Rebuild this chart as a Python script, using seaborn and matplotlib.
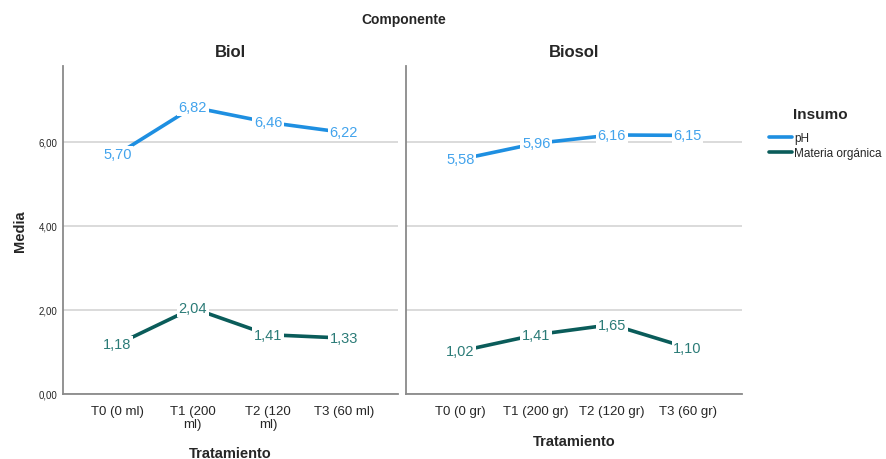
import numpy as np
import pandas as pd
import matplotlib
matplotlib.use("Agg")
import matplotlib.pyplot as plt
import seaborn as sns

# data
componentes = ["Biol", "Biosol"]
insumos = ["pH", "Materia orgánica"]
trat_biol = ["T0 (0 ml)", "T1 (200\nml)", "T2 (120\nml)", "T3 (60 ml)"]
trat_biosol = ["T0 (0 gr)", "T1 (200 gr)", "T2 (120 gr)", "T3 (60 gr)"]
biol_ph = [5.70, 6.82, 6.46, 6.22]
biol_mo = [1.18, 2.04, 1.41, 1.33]
biosol_ph = [5.58, 5.96, 6.16, 6.15]
biosol_mo = [1.02, 1.41, 1.65, 1.10]

line_colors = {"pH": "#1e8fe1", "Materia orgánica": "#0a5c5a"}
text_colors = {"pH": "#42a3ec", "Materia orgánica": "#2b7b77"}

rows = []
for comp, trats, ph, mo in [("Biol", trat_biol, biol_ph, biol_mo),
                            ("Biosol", trat_biosol, biosol_ph, biosol_mo)]:
    for i, t in enumerate(trats):
        rows.append({"Componente": comp, "pos": i, "Tratamiento": t, "Insumo": "pH", "Media": ph[i]})
        rows.append({"Componente": comp, "pos": i, "Tratamiento": t, "Insumo": "Materia orgánica", "Media": mo[i]})
df = pd.DataFrame(rows)

sns.set_theme(style="white")
plt.rcParams["font.family"] = ["Liberation Sans", "DejaVu Sans"]

fig = plt.figure(figsize=(8.87, 4.60), dpi=100)
ax1 = fig.add_axes([63 / 887, 1 - 395 / 460, 335 / 887, 328 / 460])
ax2 = fig.add_axes([406 / 887, 1 - 395 / 460, 336 / 887, 328 / 460], sharey=ax1)

for ax, comp, trats in [(ax1, "Biol", trat_biol), (ax2, "Biosol", trat_biosol)]:
    sub = df[df["Componente"] == comp]
    sns.lineplot(data=sub, x="pos", y="Media", hue="Insumo", hue_order=insumos,
                 palette=line_colors, linewidth=2.6, ax=ax, legend=False, zorder=2)
    for _, r in sub.iterrows():
        ax.text(r["pos"], r["Media"], f"{r['Media']:.2f}".replace(".", ","),
                ha="center", va="center", fontsize=10.5, color=text_colors[r["Insumo"]],
                bbox=dict(boxstyle="square,pad=0.12", fc="white", ec="none"), zorder=3)
    ax.set_xlim(-0.72, 3.72)
    ax.set_ylim(0, 7.8)
    ax.set_xticks(range(4))
    ax.set_xticklabels(trats, fontsize=9.5, linespacing=1.05)
    ax.set_yticks([0, 2, 4, 6])
    ax.yaxis.grid(True, color="#d4d4d4", linewidth=1.2)
    ax.set_axisbelow(True)
    ax.set_title(comp, fontsize=12, fontweight="bold", pad=7)
    ax.set_xlabel("Tratamiento", fontsize=10.5, fontweight="bold", labelpad=12)
    ax.tick_params(axis="x", length=0, pad=8)
    ax.tick_params(axis="y", length=0, pad=4)
    for s in ["top", "right"]:
        ax.spines[s].set_visible(False)
    for s in ["left", "bottom"]:
        ax.spines[s].set_color("#8a8a8a")
        ax.spines[s].set_linewidth(1.3)

ax1.set_yticklabels([f"{v:.2f}".replace(".", ",") for v in [0, 2, 4, 6]], fontsize=7)
ax1.set_ylabel("Media", fontsize=10.5, fontweight="bold", labelpad=8)
ax2.set_ylabel("")
ax2.tick_params(axis="y", labelleft=False)

fig.text(404 / 887, 1 - 20 / 460, "Componente", ha="center", va="center",
         fontsize=10, fontweight="bold")

# legend: title drawn separately so the gap matches the reference
fig.text(820 / 887, 1 - 115 / 460, "Insumo", ha="center", va="center",
         fontsize=11, fontweight="bold")
handles = [plt.Line2D([], [], color=line_colors[k], linewidth=2.6) for k in insumos]
leg = fig.legend(handles, insumos, loc="upper left",
                 bbox_to_anchor=(764 / 887, 1 - 128 / 460), frameon=False,
                 fontsize=8.5, handlelength=2.0, handletextpad=0.15, labelspacing=0.3,
                 borderaxespad=0.0)

fig.savefig("out.png", dpi=100, facecolor="white")
